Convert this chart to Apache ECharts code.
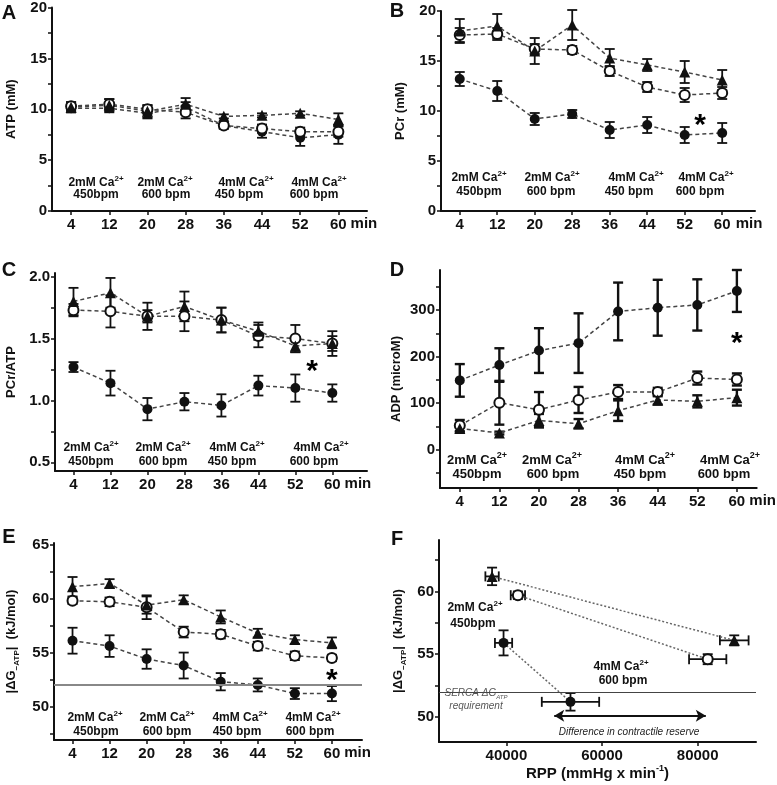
<!DOCTYPE html>
<html>
<head>
<meta charset="utf-8">
<script src="https://cdn.jsdelivr.net/npm/echarts@6/dist/echarts.min.js"></script>
<style>
  html, body { margin: 0; padding: 0; background: #fff; }
  #chart { width: 777px; height: 785px; }
</style>
</head>
<body>
<div id="chart"></div>
<script>
// sampling times (min)
const minutes = [4, 12, 20, 28, 36, 44, 52, 60];

// A: ATP (mM)
const atpFilled = [10.1, 10.1, 9.6, 10.2, 8.4, 7.8, 7.2, 7.5];
const atpFilledErr = [0.4, 0.4, 0.5, 0.5, 0.3, 0.6, 0.8, 0.9];
const atpOpen = [10.3, 10.5, 10.0, 9.7, 8.4, 8.1, 7.8, 7.8];
const atpOpenErr = [0.4, 0.5, 0.4, 0.6, 0.3, 0.4, 0.4, 0.5];
const atpTri = [10.2, 10.4, 9.8, 10.5, 9.3, 9.4, 9.6, 9.0];
const atpTriErr = [0.5, 0.6, 0.6, 0.6, 0.2, 0.2, 0.2, 0.6];

// B: PCr (mM)
const pcrFilled = [13.2, 12.0, 9.2, 9.7, 8.1, 8.6, 7.6, 7.8];
const pcrFilledErr = [0.7, 1.0, 0.6, 0.4, 0.8, 0.8, 0.8, 1.0];
const pcrOpen = [17.6, 17.7, 16.2, 16.1, 14.0, 12.4, 11.6, 11.8];
const pcrOpenErr = [0.7, 0.6, 0.5, 0.4, 0.5, 0.5, 0.7, 0.6];
const pcrTri = [18.0, 18.5, 16.0, 18.6, 15.3, 14.6, 13.9, 13.1];
const pcrTriErr = [1.2, 1.2, 1.3, 1.5, 0.9, 0.6, 1.1, 1.0];

// C: PCr/ATP
const ratioFilled = [1.27, 1.14, 0.93, 0.99, 0.96, 1.12, 1.10, 1.06];
const ratioFilledErr = [0.04, 0.10, 0.09, 0.07, 0.09, 0.08, 0.11, 0.07];
const ratioOpen = [1.73, 1.72, 1.68, 1.68, 1.65, 1.52, 1.50, 1.46];
const ratioOpenErr = [0.05, 0.13, 0.05, 0.12, 0.10, 0.09, 0.11, 0.10];
const ratioTri = [1.80, 1.87, 1.68, 1.76, 1.65, 1.56, 1.44, 1.46];
const ratioTriErr = [0.11, 0.12, 0.11, 0.12, 0.10, 0.07, 0.05, 0.06];

// D: ADP (microM)
const adpFilled = [149, 182, 213, 229, 297, 305, 311, 341];
const adpFilledErr = [35, 36, 48, 64, 62, 60, 55, 45];
const adpOpen = [52, 101, 86, 107, 124, 124, 154, 151];
const adpOpenErr = [12, 47, 38, 28, 15, 9, 14, 13];
const adpTri = [46, 36, 63, 56, 84, 107, 104, 112];
const adpTriErr = [8, 3, 14, 10, 22, 10, 13, 17];

// E: |dG ATP| (kJ/mol)
const dgFilled = [56.1, 55.6, 54.4, 53.8, 52.3, 52.0, 51.2, 51.2];
const dgFilledErr = [1.2, 1.0, 0.9, 1.2, 0.8, 0.6, 0.5, 0.7];
const dgOpen = [59.8, 59.7, 59.2, 56.9, 56.7, 55.6, 54.7, 54.5];
const dgOpenErr = [0.3, 0.4, 1.1, 0.5, 0.4, 0.4, 0.4, 0.3];
const dgTri = [61.1, 61.4, 59.4, 59.9, 58.3, 56.8, 56.2, 55.9];
const dgTriErr = [0.9, 0.4, 0.8, 0.4, 0.6, 0.4, 0.4, 0.5];

// F: dG vs RPP (2mM/450bpm -> 4mM/600bpm)
const rppFilled = [39400, 53400];
const rppFilledErr = [1800, 6000];
const dgFilledF = [55.9, 51.2];
const dgFilledFErr = [1.0, 0.7];
const rppOpen = [42400, 82100];
const rppOpenErr = [1500, 3900];
const dgOpenF = [59.7, 54.6];
const dgOpenFErr = [0.3, 0.4];
const rppTri = [37000, 87650];
const rppTriErr = [1400, 3000];
const dgTriF = [61.2, 56.1];
const dgTriFErr = [0.7, 0.4];

const sercaLevel = 52;
const reserveArrow = [50000, 81700];
const reserveArrowY = 50.1;

// significance marks [x, y]
const starB = [55.3, 8.5];
const starC = [55.6, 1.23];
const starD = [60, 228];
const starE = [60, 52.4];

// tick labels
const ticksAB = [0, 5, 10, 15, 20];
const minorAB = [2.5, 7.5, 12.5, 17.5];
const ticksC = [0.5, 1.0, 1.5, 2.0];
const minorC = [0.75, 1.25, 1.75];
const ticksD = [0, 100, 200, 300];
const minorD = [-50, 50, 150, 250, 350];
const ticksE = [50, 55, 60, 65];
const minorE = [47.5, 52.5, 57.5, 62.5];
const ticksF = [50, 55, 60];
const minorF = [52.5, 57.5, 62.5];
const ticksRpp = [40000, 60000, 80000];

const groupTop = ['2mM Ca', '2mM Ca', '4mM Ca', '4mM Ca'];
const groupBottom = ['450bpm', '600 bpm', '450 bpm', '600 bpm'];

const FONT = '"Liberation Sans", Arial, sans-serif';
const INK = '#111';

const chart = echarts.init(document.getElementById('chart'));

// panel boxes
const grids = [
  { left: 52, top: 7, width: 315, height: 204 },
  { left: 441, top: 11, width: 314, height: 200 },
  { left: 53, top: 273, width: 314, height: 198 },
  { left: 440, top: 270, width: 321, height: 218 },
  { left: 53, top: 543, width: 309, height: 197 },
  { left: 439, top: 540, width: 317, height: 203 }
];

const axisLineStyle = { show: true, onZero: false, lineStyle: { color: INK, width: 2 } };

function timeAxis(i, max, nameGap) {
  return {
    type: 'value', gridIndex: i, min: 0, max: max,
    axisLine: axisLineStyle,
    axisTick: { show: true, customValues: minutes, length: 4, lineStyle: { color: INK, width: 1.5 } },
    axisLabel: { customValues: minutes, color: INK, fontSize: 15, fontWeight: 'bold', fontFamily: FONT, margin: 6 },
    splitLine: { show: false },
    name: 'min', nameLocation: 'end', nameGap: nameGap,
    nameTextStyle: { color: INK, fontSize: 15, fontWeight: 'bold', fontFamily: FONT,
      align: 'center', verticalAlign: 'top', padding: [5, 0, 0, 0] }
  };
}

const subRich = {
  sub: { fontSize: 8, fontWeight: 'bold', fontFamily: FONT, color: INK, verticalAlign: 'bottom', lineHeight: 20 },
  sup: { fontSize: 9, fontWeight: 'bold', fontFamily: FONT, color: INK, verticalAlign: 'top', lineHeight: 20 }
};

function valueAxis(i, min, max, major, minor, name, gap, fmt) {
  return {
    type: 'value', gridIndex: i, min: min, max: max,
    axisLine: axisLineStyle,
    axisTick: { show: true, customValues: major.concat(minor), length: 4, lineStyle: { color: INK, width: 1.5 } },
    axisLabel: { customValues: major, color: INK, fontSize: 15, fontWeight: 'bold', fontFamily: FONT, margin: 5,
      formatter: fmt || (v => String(v)) },
    splitLine: { show: false },
    name: name, nameLocation: 'middle', nameRotate: 90, nameGap: gap,
    nameTextStyle: { color: INK, fontSize: 13, fontWeight: 'bold', fontFamily: FONT, lineHeight: 20, rich: subRich }
  };
}

const xAxes = [
  timeAxis(0, 66, -5),
  timeAxis(1, 67, -6),
  timeAxis(2, 67.5, -10),
  timeAxis(3, 64, 6),
  timeAxis(4, 66.5, -8),
  {
    type: 'value', gridIndex: 5, min: 25900, max: 92200,
    axisLine: axisLineStyle,
    axisTick: { show: true, customValues: ticksRpp, length: 4, lineStyle: { color: INK, width: 1.5 } },
    axisLabel: { customValues: ticksRpp, color: INK, fontSize: 15, fontWeight: 'bold', fontFamily: FONT, margin: 6,
      formatter: v => String(v) },
    splitLine: { show: false },
    name: 'RPP (mmHg x min{sup|-1})', nameLocation: 'middle', nameGap: 22,
    nameTextStyle: { color: INK, fontSize: 15, fontWeight: 'bold', fontFamily: FONT, lineHeight: 20, rich: subRich }
  }
];

const dgName = '|ΔG{sub|−ATP}|  (kJ/mol)';
const yAxes = [
  valueAxis(0, 0, 20, ticksAB, minorAB, 'ATP (mM)', 31),
  valueAxis(1, 0, 20, ticksAB, minorAB, 'PCr (mM)', 31),
  valueAxis(2, 0.43, 2.03, ticksC, minorC, 'PCr/ATP', 34, v => v.toFixed(1)),
  valueAxis(3, -82, 386, ticksD, minorD, 'ADP (microM)', 32),
  valueAxis(4, 46.9, 65.15, ticksE, minorE, dgName, 33),
  valueAxis(5, 48, 64.1, ticksF, minorF, dgName, 31)
];

const lineStyle = { color: '#444', width: 1.5, type: [4, 3] };

function markerStyle(kind) {
  if (kind === 'open') return { symbol: 'emptyCircle', symbolSize: 10, itemStyle: { color: INK, borderColor: INK, borderWidth: 2 } };
  if (kind === 'tri') return { symbol: 'triangle', symbolSize: 11, itemStyle: { color: INK } };
  return { symbol: 'circle', symbolSize: 10, itemStyle: { color: INK } };
}

function timeLine(i, ys, kind) {
  const m = markerStyle(kind);
  return Object.assign({
    type: 'line', xAxisIndex: i, yAxisIndex: i,
    data: minutes.map((t, k) => [t, ys[k]]),
    lineStyle: lineStyle, z: 4, silent: true
  }, m);
}

function errorBars(i, xs, ys, yErr, xErr, width) {
  return {
    type: 'custom', xAxisIndex: i, yAxisIndex: i, z: 3, silent: true,
    data: xs.map((x, k) => [x, ys[k], yErr[k], xErr ? xErr[k] : 0]),
    encode: { x: 0, y: 1 },
    renderItem: function (params, api) {
      const x = api.value(0), y = api.value(1), ey = api.value(2), ex = api.value(3);
      const hi = api.coord([x, y + ey]);
      const lo = api.coord([x, y - ey]);
      const c = 5;
      const st = { stroke: INK, lineWidth: width || 1.8, fill: null };
      const kids = [
        { type: 'line', shape: { x1: hi[0], y1: hi[1], x2: lo[0], y2: lo[1] }, style: st },
        { type: 'line', shape: { x1: hi[0] - c, y1: hi[1], x2: hi[0] + c, y2: hi[1] }, style: st },
        { type: 'line', shape: { x1: lo[0] - c, y1: lo[1], x2: lo[0] + c, y2: lo[1] }, style: st }
      ];
      if (ex) {
        const l = api.coord([x - ex, y]);
        const r = api.coord([x + ex, y]);
        kids.push(
          { type: 'line', shape: { x1: l[0], y1: l[1], x2: r[0], y2: r[1] }, style: st },
          { type: 'line', shape: { x1: l[0], y1: l[1] - c, x2: l[0], y2: l[1] + c }, style: st },
          { type: 'line', shape: { x1: r[0], y1: r[1] - c, x2: r[0], y2: r[1] + c }, style: st }
        );
      }
      return { type: 'group', children: kids };
    }
  };
}

// asterisk drawn as text at a data point
function star(i, p) {
  return {
    type: 'custom', xAxisIndex: i, yAxisIndex: i, z: 6, silent: true,
    data: [p],
    encode: { x: 0, y: 1 },
    renderItem: function (params, api) {
      const pt = api.coord([api.value(0), api.value(1)]);
      return {
        type: 'text', x: pt[0], y: pt[1],
        style: { text: '*', fill: '#000', font: 'bold 30px ' + FONT, align: 'center', verticalAlign: 'middle' }
      };
    }
  };
}

function timePanel(i, f, fe, o, oe, t, te, barW) {
  return [
    errorBars(i, minutes, f, fe, null, barW),
    errorBars(i, minutes, o, oe, null, barW),
    errorBars(i, minutes, t, te, null, barW),
    timeLine(i, f, 'filled'),
    timeLine(i, o, 'open'),
    timeLine(i, t, 'tri')
  ];
}

const series = [].concat(
  timePanel(0, atpFilled, atpFilledErr, atpOpen, atpOpenErr, atpTri, atpTriErr),
  timePanel(1, pcrFilled, pcrFilledErr, pcrOpen, pcrOpenErr, pcrTri, pcrTriErr),
  timePanel(2, ratioFilled, ratioFilledErr, ratioOpen, ratioOpenErr, ratioTri, ratioTriErr),
  timePanel(3, adpFilled, adpFilledErr, adpOpen, adpOpenErr, adpTri, adpTriErr, 2.4),
  timePanel(4, dgFilled, dgFilledErr, dgOpen, dgOpenErr, dgTri, dgTriErr),
  [star(1, starB), star(2, starC), star(3, starD), star(4, starE)]
);

// SERCA requirement line in E
series.push({
  type: 'line', xAxisIndex: 4, yAxisIndex: 4, data: [], silent: true,
  markLine: { symbol: 'none', silent: true, label: { show: false },
    lineStyle: { color: '#888', width: 1.8, type: 'solid' }, data: [{ yAxis: sercaLevel }] }
});

// F panel
const fLine = { color: '#666', width: 1.5, type: [2, 2] };
function fSeries(xs, ys, kind) {
  return Object.assign({
    type: 'line', xAxisIndex: 5, yAxisIndex: 5, z: 4, silent: true,
    data: xs.map((x, k) => [x, ys[k]]), lineStyle: fLine
  }, markerStyle(kind));
}
series.push(
  errorBars(5, rppFilled, dgFilledF, dgFilledFErr, rppFilledErr),
  errorBars(5, rppOpen, dgOpenF, dgOpenFErr, rppOpenErr),
  errorBars(5, rppTri, dgTriF, dgTriFErr, rppTriErr),
  fSeries(rppFilled, dgFilledF, 'filled'),
  fSeries(rppOpen, dgOpenF, 'open'),
  fSeries(rppTri, dgTriF, 'tri'),
  {
    type: 'line', xAxisIndex: 5, yAxisIndex: 5, data: [], silent: true,
    markLine: {
      silent: true, label: { show: false },
      data: [
        [{ coord: [25900, sercaLevel], symbol: 'none' }, { coord: [92200, sercaLevel], symbol: 'none', lineStyle: { color: '#444', width: 1.2, type: 'solid' } }],
        [{ coord: [reserveArrow[0], reserveArrowY], symbol: 'arrow' }, { coord: [reserveArrow[1], reserveArrowY], symbol: 'arrow', lineStyle: { color: INK, width: 2, type: 'solid' } }]
      ],
      symbolSize: [9, 10]
    }
  }
);

// annotation texts
const groupPos = [
  { x1: [96, 165, 246, 319], x2: [96, 166, 239, 314], y1: 183, y2: 195, fs: 12 },
  { x1: [479, 552, 636, 706], x2: [479, 551, 629, 700], y1: 178, y2: 192, fs: 12 },
  { x1: [91, 163, 237, 321], x2: [91, 163, 232, 314], y1: 448, y2: 462, fs: 12 },
  { x1: [477, 552, 645, 730], x2: [477, 553, 640, 724], y1: 460, y2: 474, fs: 13 },
  { x1: [95, 167, 240, 313], x2: [96, 167, 237, 310], y1: 718, y2: 732, fs: 12 }
];

function txt(x, y, text, fs, extra) {
  return {
    type: 'text', x: x, y: y, silent: true,
    style: Object.assign({
      text: text, fill: INK, font: 'bold ' + fs + 'px ' + FONT,
      align: 'center', verticalAlign: 'middle',
      rich: {
        sup: { fontSize: fs - 4, fontWeight: 'bold', fontFamily: FONT, fill: INK, verticalAlign: 'top', lineHeight: fs + 4 },
        sub: { fontSize: fs - 4, fontStyle: 'italic', fontFamily: FONT, fill: '#555', verticalAlign: 'bottom', lineHeight: fs + 4 }
      }
    }, extra || {})
  };
}

const graphics = [];
groupPos.forEach(g => {
  for (let k = 0; k < 4; k++) {
    graphics.push(txt(g.x1[k], g.y1, groupTop[k] + '{sup|2+}', g.fs));
    graphics.push(txt(g.x2[k], g.y2, groupBottom[k], g.fs));
  }
});

// panel letters
[['A', 9, 13], ['B', 397, 11], ['C', 9, 270], ['D', 397, 270], ['E', 9, 537], ['F', 397, 539]].forEach(p => {
  graphics.push(txt(p[1], p[2], p[0], 20));
});

// F annotations
graphics.push(
  txt(475, 608, '2mM Ca{sup|2+}', 12),
  txt(473, 624, '450bpm', 12),
  txt(621, 667, '4mM Ca{sup|2+}', 12),
  txt(623, 681, '600 bpm', 12),
  txt(476, 693, 'SERCA ΔG{sub|ATP}', 10, { font: 'italic 10px ' + FONT, fill: '#555' }),
  txt(476, 706, 'requirement', 10, { font: 'italic 10px ' + FONT, fill: '#555' }),
  txt(629, 732, 'Difference in contractile reserve', 10, { font: 'italic 10px ' + FONT, fill: '#222' })
);

chart.setOption({
  animation: false,
  backgroundColor: '#fff',
  grid: grids,
  xAxis: xAxes,
  yAxis: yAxes,
  series: series,
  graphic: graphics
});
</script>
</body>
</html>
